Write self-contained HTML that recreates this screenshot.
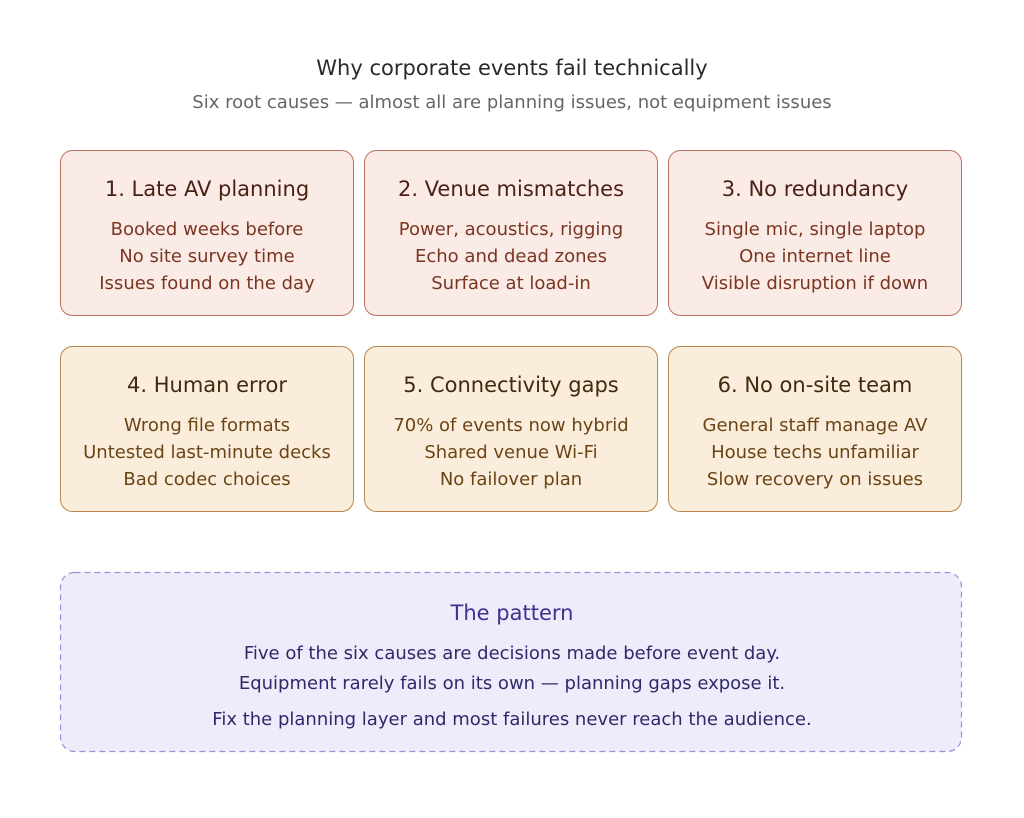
<!DOCTYPE html>
<html><head><meta charset="utf-8"><style>
html,body{margin:0;padding:0;background:#fff;}
svg text{font-family:"DejaVu Sans","Liberation Sans",sans-serif;text-anchor:middle;}
</style></head><body>
<svg width="1024" height="813" viewBox="0 0 1024 813" xmlns="http://www.w3.org/2000/svg">
<text x="512" y="75" font-size="21" fill="#2a2a2a">Why corporate events fail technically</text>
<text x="512" y="108" font-size="18" fill="#666">Six root causes — almost all are planning issues, not equipment issues</text>

<g stroke="#c0705a" stroke-width="1" fill="#fbebe7">
<rect x="60.5" y="150.5" width="293" height="165" rx="12"/>
<rect x="364.5" y="150.5" width="293" height="165" rx="12"/>
<rect x="668.5" y="150.5" width="293" height="165" rx="12"/>
</g>
<g stroke="#b8864e" stroke-width="1" fill="#fbeddb">
<rect x="60.5" y="346.5" width="293" height="165" rx="12"/>
<rect x="364.5" y="346.5" width="293" height="165" rx="12"/>
<rect x="668.5" y="346.5" width="293" height="165" rx="12"/>
</g>

<g fill="#4a1f14" font-size="21">
<text x="207" y="196">1. Late AV planning</text>
<text x="511" y="196">2. Venue mismatches</text>
<text x="815" y="196">3. No redundancy</text>
</g>
<g fill="#7a3520" font-size="18">
<text x="207" y="235">Booked weeks before</text>
<text x="207" y="262">No site survey time</text>
<text x="207" y="289">Issues found on the day</text>
<text x="511" y="235">Power, acoustics, rigging</text>
<text x="511" y="262">Echo and dead zones</text>
<text x="511" y="289">Surface at load-in</text>
<text x="815" y="235">Single mic, single laptop</text>
<text x="815" y="262">One internet line</text>
<text x="815" y="289">Visible disruption if down</text>
</g>
<g fill="#3f2a10" font-size="21">
<text x="207" y="392">4. Human error</text>
<text x="511" y="392">5. Connectivity gaps</text>
<text x="815" y="392">6. No on-site team</text>
</g>
<g fill="#6b4416" font-size="18">
<text x="207" y="431">Wrong file formats</text>
<text x="207" y="458">Untested last-minute decks</text>
<text x="207" y="485">Bad codec choices</text>
<text x="511" y="431">70% of events now hybrid</text>
<text x="511" y="458">Shared venue Wi-Fi</text>
<text x="511" y="485">No failover plan</text>
<text x="815" y="431">General staff manage AV</text>
<text x="815" y="458">House techs unfamiliar</text>
<text x="815" y="485">Slow recovery on issues</text>
</g>

<rect x="60.5" y="572.5" width="901" height="179" rx="14" fill="#eeebfb" stroke="#9d8fd8" stroke-width="1.2" stroke-dasharray="6,4"/>
<text x="512" y="620" font-size="21" fill="#3c3290">The pattern</text>
<g fill="#2e2a6a" font-size="18">
<text x="512" y="659">Five of the six causes are decisions made before event day.</text>
<text x="512" y="689">Equipment rarely fails on its own — planning gaps expose it.</text>
<text x="512" y="725">Fix the planning layer and most failures never reach the audience.</text>
</g>
</svg>
</body></html>
